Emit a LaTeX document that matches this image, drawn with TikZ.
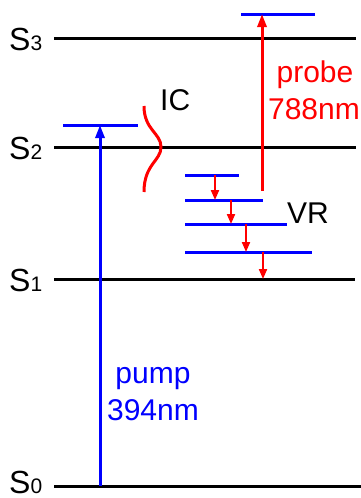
\documentclass[tikz,border=0pt]{standalone}
\usepackage{fontspec}
\setmainfont{Liberation Sans}
\usetikzlibrary{arrows.meta}
\begin{document}
\begin{tikzpicture}[x=1pt,y=-1pt,
  level/.style={line width=3pt},
  vib/.style={blue,line width=3pt},
  bigarrow/.style={line width=3pt,-{Triangle[length=13pt,width=9pt]}},
  smallarrow/.style={red,line width=2pt,-{Triangle[length=10pt,width=8pt]}},
  slabel/.style={inner sep=0pt,anchor=base west},
  txt/.style={inner sep=0pt,font=\fontsize{30}{36}\selectfont}]
\useasboundingbox (0,0) rectangle (361,498);
% electronic levels
\coordinate (s3a) at (54,38);  \coordinate (s3b) at (356,38);
\coordinate (s2a) at (54,147); \coordinate (s2b) at (356,147);
\coordinate (s1a) at (54,279); \coordinate (s1b) at (355,279);
\coordinate (s0a) at (54,486); \coordinate (s0b) at (361,486);
\draw[level] (s3a) -- (s3b);
\draw[level] (s2a) -- (s2b);
\draw[level] (s1a) -- (s1b);
\draw[level] (s0a) -- (s0b);
\node[slabel] (L3) at (9,50) {{\fontsize{32}{32}\selectfont S}{\fontsize{21}{21}\selectfont 3}};
\node[slabel] (L2) at (9,159) {{\fontsize{32}{32}\selectfont S}{\fontsize{21}{21}\selectfont 2}};
\node[slabel] (L1) at (9,291) {{\fontsize{32}{32}\selectfont S}{\fontsize{21}{21}\selectfont 1}};
\node[slabel] (L0) at (9,493) {{\fontsize{32}{32}\selectfont S}{\fontsize{21}{21}\selectfont 0}};
% upper levels (blue)
\coordinate (t3a) at (241,14); \coordinate (t3b) at (315,14);
\coordinate (t2a) at (63,125); \coordinate (t2b) at (138,125);
\draw[vib] (t3a) -- (t3b);
\draw[vib] (t2a) -- (t2b);
% vibrational levels
\coordinate (v1a) at (185,175); \coordinate (v1b) at (239,175);
\coordinate (v2a) at (185,200); \coordinate (v2b) at (263,200);
\coordinate (v3a) at (185,224); \coordinate (v3b) at (287,224);
\coordinate (v4a) at (185,252); \coordinate (v4b) at (312,252);
\draw[vib] (v1a) -- (v1b);
\draw[vib] (v2a) -- (v2b);
\draw[vib] (v3a) -- (v3b);
\draw[vib] (v4a) -- (v4b);
% pump arrow
\coordinate (pb) at (100,486); \coordinate (pt) at (100,125);
\draw[bigarrow,blue] (pb) -- (pt);
\node[txt,blue,anchor=base] (pump1) at (153,383) {pump};
\node[txt,blue,anchor=base] (pump2) at (153,420) {394nm};
% probe arrow
\coordinate (qb) at (262,191); \coordinate (qt) at (262,14);
\draw[bigarrow,red] (qb) -- (qt);
\node[txt,red,anchor=base] (probe1) at (315,82) {probe};
\node[txt,red,anchor=base] (probe2) at (314,119) {788nm};
% vibrational relaxation arrows
\coordinate (r1a) at (215,175); \coordinate (r1b) at (215,200);
\coordinate (r2a) at (231,200); \coordinate (r2b) at (231,224);
\coordinate (r3a) at (246,224); \coordinate (r3b) at (246,252);
\coordinate (r4a) at (263,252); \coordinate (r4b) at (263,279);
\draw[smallarrow] (r1a) -- (r1b);
\draw[smallarrow] (r2a) -- (r2b);
\draw[smallarrow] (r3a) -- (r3b);
\draw[smallarrow] (r4a) -- (r4b);
\node[txt,anchor=base west] (VR) at (287,223) {VR};
% internal conversion
\coordinate (ic0) at (144,106); \coordinate (ic1) at (161,147); \coordinate (ic2) at (144,192);
\draw[red,line width=3pt] (ic0) .. controls (144,130) and (161,133) .. (ic1)
  .. controls (161,161) and (144,164) .. (ic2);
\node[txt,anchor=base west] (IC) at (160,110) {IC};
\end{tikzpicture}
\end{document}
